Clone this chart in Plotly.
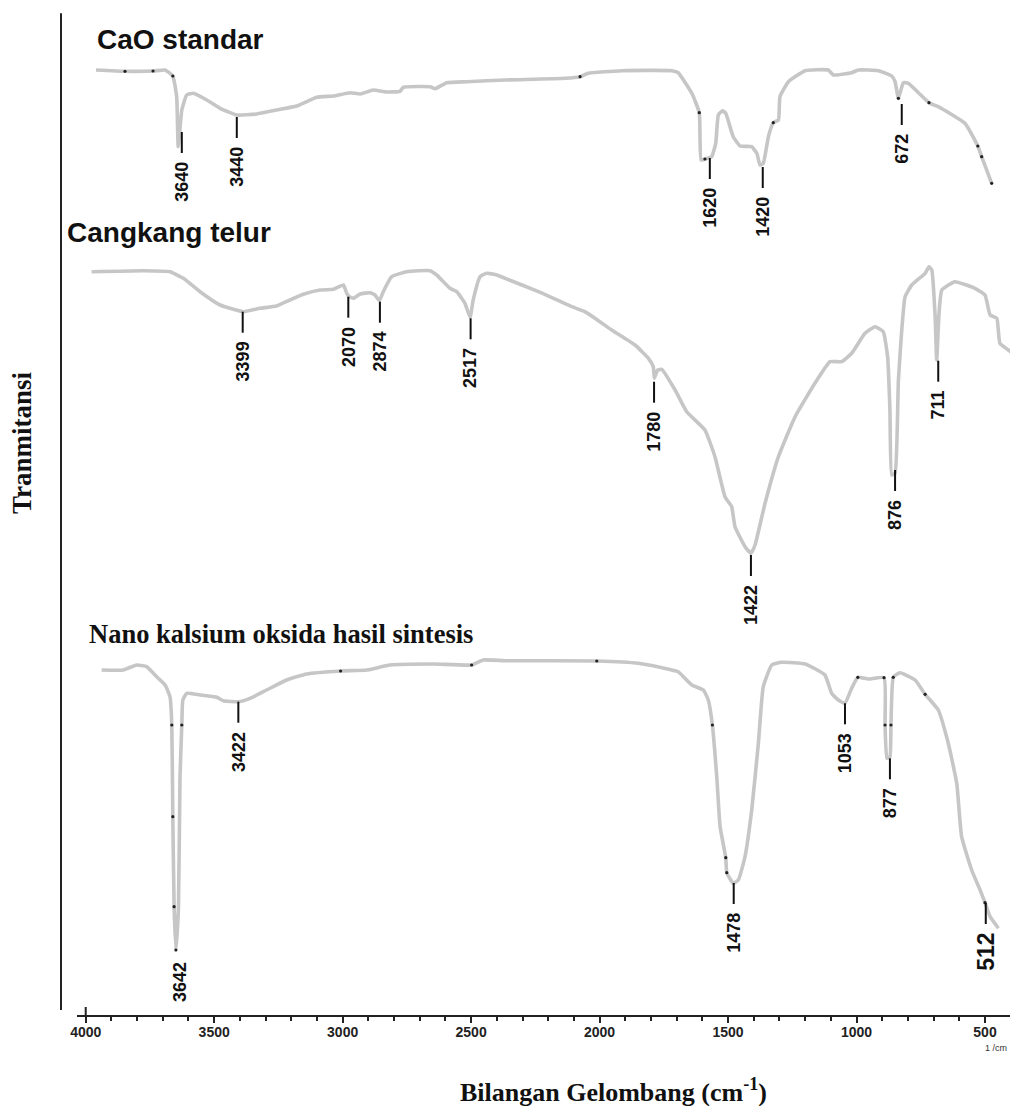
import numpy as np
import plotly.graph_objects as go

# ---------------- data ----------------
# wavenumber (cm-1) and offset transmittance (arbitrary units)
cao_wn = [3960, 3847, 3738, 3691, 3661, 3646, 3640, 3626, 3607, 3581, 3529, 3477, 3412, 3334, 3257, 3179,
          3101, 3036, 2971, 2932, 2881, 2828, 2777, 2764, 2660, 2640, 2595, 2517, 2368, 2135, 2076, 2044,
          1914, 1719, 1694, 1641, 1612, 1605, 1590, 1564, 1548, 1538, 1522, 1509, 1480, 1453, 1408, 1388,
          1376, 1363, 1343, 1324, 1304, 1298, 1265, 1200, 1110, 1090, 1019, 993, 915, 863, 850, 837, 818,
          798, 759, 718, 682, 578, 528, 513, 474]
cao_t = [945, 943.7, 944, 945, 939, 918.3, 868.3, 905, 920, 921.7, 915, 906.7, 900, 901, 905, 909,
         917.7, 919, 922.3, 921, 925, 923, 923.7, 927.7, 928.3, 926.3, 932.3, 933.3, 935, 936.7, 938.3, 941.7,
         944.3, 944.3, 942.3, 921.7, 902.3, 855, 856, 858.3, 871.7, 900, 904.3, 901.7, 878.3, 869, 868.3, 861.7,
         850, 851.7, 878.3, 892.3, 895, 918.3, 933.3, 944.3, 945, 940, 942.3, 945, 944.3, 939, 933.3, 916.7, 932.3,
         931.7, 922.3, 912.3, 908.3, 891.7, 869, 858.3, 831.7]
cao_dot_wn = [3847, 3738, 3661, 2076, 1612, 1590, 1324, 837, 718, 528, 513, 474]
cao_peak_wn = [3626, 3412, 1571, 1365, 824]
cao_peak_t = [883, 898, 857, 848, 911]
cao_peak_lbl = ["3640", "3440", "1620", "1420", "672"]

egg_wn = [3977, 3776, 3672, 3620, 3555, 3477, 3387, 3322, 3257, 3205, 3153, 3088, 3036, 2997, 2984, 2974,
          2958, 2932, 2893, 2874, 2857, 2842, 2809, 2751, 2660, 2634, 2582, 2556, 2524, 2504, 2492, 2465,
          2439, 2400, 2368, 2238, 2108, 2057, 1953, 1862, 1810, 1791, 1787, 1774, 1758, 1706, 1661, 1590,
          1551, 1512, 1486, 1473, 1434, 1411, 1395, 1356, 1304, 1239, 1162, 1103, 1058, 1019, 967, 928,
          896, 879, 870, 863, 850, 837, 824, 811, 785, 733, 718, 707, 694, 688, 679, 668, 617, 539, 500,
          480, 454, 442, 409, 379]
egg_t = [743.3, 744.3, 743.3, 736.7, 723.3, 710, 703.3, 706.7, 709, 715, 720.7, 725, 725.7, 730, 721.7, 718.3,
         716.7, 721, 722.3, 720, 714.3, 723.3, 738.3, 743.3, 744.3, 740, 726.7, 723.3, 711.7, 697.7, 715, 738.3,
         741.7, 740, 736.7, 723.3, 708.3, 703.3, 685, 670, 656.7, 648.3, 636.7, 645, 645.7, 625, 603.3, 585,
         558.3, 518.3, 508.3, 488.3, 468.3, 461.7, 470, 511.7, 558.3, 598.3, 631.7, 653.3, 653.3, 661.7, 681.7, 688.3,
         683.3, 658.3, 605, 540, 541.7, 635, 685, 718.3, 730, 741.7, 748.3, 745, 698.3, 655, 701.7, 725, 733.3, 726.7, 720,
         700, 696.7, 671.7, 665, 659]
egg_peak_wn = [3389, 2978, 2855, 2502, 1788, 1411, 850, 682]
egg_peak_t = [703.3, 718.3, 713.3, 696.7, 633.3, 460, 545, 654.3]
egg_peak_lbl = ["3399", "2070", "2874", "2517", "1780", "1422", "876", "711"]

nano_wn = [3938, 3854, 3802, 3763, 3724, 3691, 3672, 3665, 3661, 3656, 3649, 3639, 3633, 3626, 3622, 3607,
           3555, 3490, 3464, 3406, 3360, 3296, 3218, 3140, 3008, 2906, 2816, 2647, 2498, 2453, 2368, 2011,
           1849, 1719, 1694, 1641, 1596, 1577, 1561, 1544, 1531, 1509, 1505, 1480, 1460, 1434, 1408, 1382,
           1363, 1330, 1291, 1200, 1123, 1097, 1071, 1045, 1019, 995, 954, 893, 889, 882, 870, 866, 857,
           831, 772, 733, 682, 643, 610, 591, 552, 519, 500, 480, 448]
nano_t = [345, 345, 350, 348.3, 338.3, 330, 318.3, 290, 198.3, 108.3, 65, 108.3, 238.3, 290, 315, 321.7,
          320, 317.7, 314.3, 313.3, 316.7, 325, 335, 341, 344, 345, 350, 351, 350, 355, 354.3, 354,
          351.7, 345, 343.3, 330, 325, 315, 290, 238.3, 188.3, 157.3, 142.3, 131.7, 135, 158.3, 205, 271.7,
          328.3, 350, 352.7, 351, 340, 321.7, 315, 311.7, 326.7, 337.7, 336, 337.3, 290, 256.7, 258.3, 290, 337.7,
          342.3, 335, 320.7, 305, 271.7, 231.7, 178.3, 145, 125, 112.3, 98.3, 86.7]
nano_dot_wn = [3665, 3661, 3656, 3649, 3626, 3008, 2498, 2011, 1561, 1509, 1505, 995, 893, 889, 866, 857, 733, 500]
nano_peak_wn = [3633, 3406, 1478, 1045, 870, 497]
nano_peak_t = [62, 313.3, 132, 311.7, 256.7, 112]
nano_peak_lbl = ["3642", "3422", "1478", "1053", "877", "512"]
nano_peak_tick = [False, True, True, True, True, True]

series_names = ["CaO standar", "Cangkang telur", "Nano kalsium oksida hasil sintesis"]
series_title_t = [976, 783, 381]

x_tick_vals = [4000, 3500, 3000, 2500, 2000, 1500, 1000, 500]
x_tick_text = ["4000", "3500", "3000", "2500", "2000", "1500", "1000", "500"]

# ---------------- styling ----------------
SANS = "Arial, Liberation Sans, Helvetica, sans-serif"
SERIF = "Times New Roman, Liberation Serif, serif"
LINE_COLOR = "rgb(198,198,198)"
INK = "#111111"
TICK_LEN = 21
GAP = 7

fig = go.Figure()


def add_series(wn, t, dot_wn=None):
    fig.add_trace(go.Scatter(x=wn, y=t, mode="lines",
                             line=dict(color=LINE_COLOR, width=3.6, shape="spline", smoothing=0.4),
                             hoverinfo="skip"))
    if dot_wn:
        wr = np.array(wn[::-1], dtype=float)
        tr = np.array(t[::-1], dtype=float)
        dy = np.interp(np.array(dot_wn, dtype=float), wr, tr)
        fig.add_trace(go.Scatter(x=dot_wn, y=dy, mode="markers",
                                 marker=dict(color="#222", size=3.2), hoverinfo="skip"))


add_series(cao_wn, cao_t, cao_dot_wn)
add_series(egg_wn, egg_t)
add_series(nano_wn, nano_t, nano_dot_wn)

shapes = []
annotations = []


def add_peaks(pwn, pt, lbls, ticks=None):
    for i, (w, tv, lb) in enumerate(zip(pwn, pt, lbls)):
        has_tick = True if ticks is None else ticks[i]
        top = tv
        if has_tick:
            shapes.append(dict(type="line", xref="x", yref="y", x0=w, x1=w, y0=tv, y1=tv - TICK_LEN,
                               line=dict(color=INK, width=2)))
            top = tv - TICK_LEN
        big = lb == "512"
        annotations.append(dict(x=w, y=top - GAP, xref="x", yref="y", text=lb, showarrow=False,
                                textangle=-90, xanchor="center", yanchor="top",
                                font=dict(family=SANS, size=23 if big else 18, color=INK, weight="bold")))


add_peaks(cao_peak_wn, cao_peak_t, cao_peak_lbl)
add_peaks(egg_peak_wn, egg_peak_t, egg_peak_lbl)
add_peaks(nano_peak_wn, nano_peak_t, nano_peak_lbl, nano_peak_tick)

# series titles
title_x = [0.0193, -0.0129, 0.0107]
title_fonts = [dict(family=SANS, size=28, color=INK, weight="bold"),
               dict(family=SANS, size=28, color=INK, weight="bold"),
               dict(family=SERIF, size=26.5, color=INK, weight="bold")]
for nm, ty, tx, tf in zip(series_names, series_title_t, title_x, title_fonts):
    annotations.append(dict(x=tx, y=ty, xref="paper", yref="y", text=nm, showarrow=False,
                            xanchor="left", yanchor="middle", font=tf))

# axis titles
annotations.append(dict(x=-0.0589, y=0.5635, xref="paper", yref="paper", text="Tranmitansi",
                        showarrow=False, textangle=-90, xanchor="center", yanchor="middle",
                        font=dict(family=SERIF, size=27, color=INK, weight="bold")))
annotations.append(dict(x=0.5745, y=-0.0739, xref="paper", yref="paper",
                        text="Bilangan Gelombang (cm<sup>-1</sup>)", showarrow=False,
                        xanchor="center", yanchor="middle",
                        font=dict(family=SERIF, size=26, color=INK, weight="bold")))
annotations.append(dict(x=500, y=0, xref="x", yref="paper", text="1 /cm", showarrow=False,
                        xanchor="left", yanchor="middle", yshift=-33, xshift=-2,
                        font=dict(family=SANS, size=9, color="#333")))

# vertical axis line and long 4000 tick
shapes.append(dict(type="line", xref="paper", yref="paper", x0=-0.01715, x1=-0.01715, y0=0.0049, y1=0.987,
                   line=dict(color="#222", width=2)))
shapes.append(dict(type="line", xref="x", yref="y", x0=4000, x1=4000, y0=0, y1=8,
                   line=dict(color="#222", width=2)))

fig.update_layout(
    width=1010, height=1106,
    margin=dict(l=77, r=0, t=0, b=91),
    paper_bgcolor="white", plot_bgcolor="white",
    showlegend=False,
    shapes=shapes, annotations=annotations,
    xaxis=dict(range=[4033.9, 402.7], showline=True, linecolor="#222", linewidth=2,
               ticks="outside", ticklen=6, tickwidth=2, tickcolor="#222",
               tickvals=x_tick_vals, ticktext=x_tick_text, ticklabelstandoff=-3,
               tickfont=dict(family=SANS, size=14, color="#222", weight="bold"),
               showgrid=False, zeroline=False,
               minor=dict(dtick=100, ticks="outside", ticklen=4, tickwidth=2, tickcolor="#222", showgrid=False)),
    yaxis=dict(range=[0, 1015], visible=False, fixedrange=True),
)

fig.write_html("out.html")
